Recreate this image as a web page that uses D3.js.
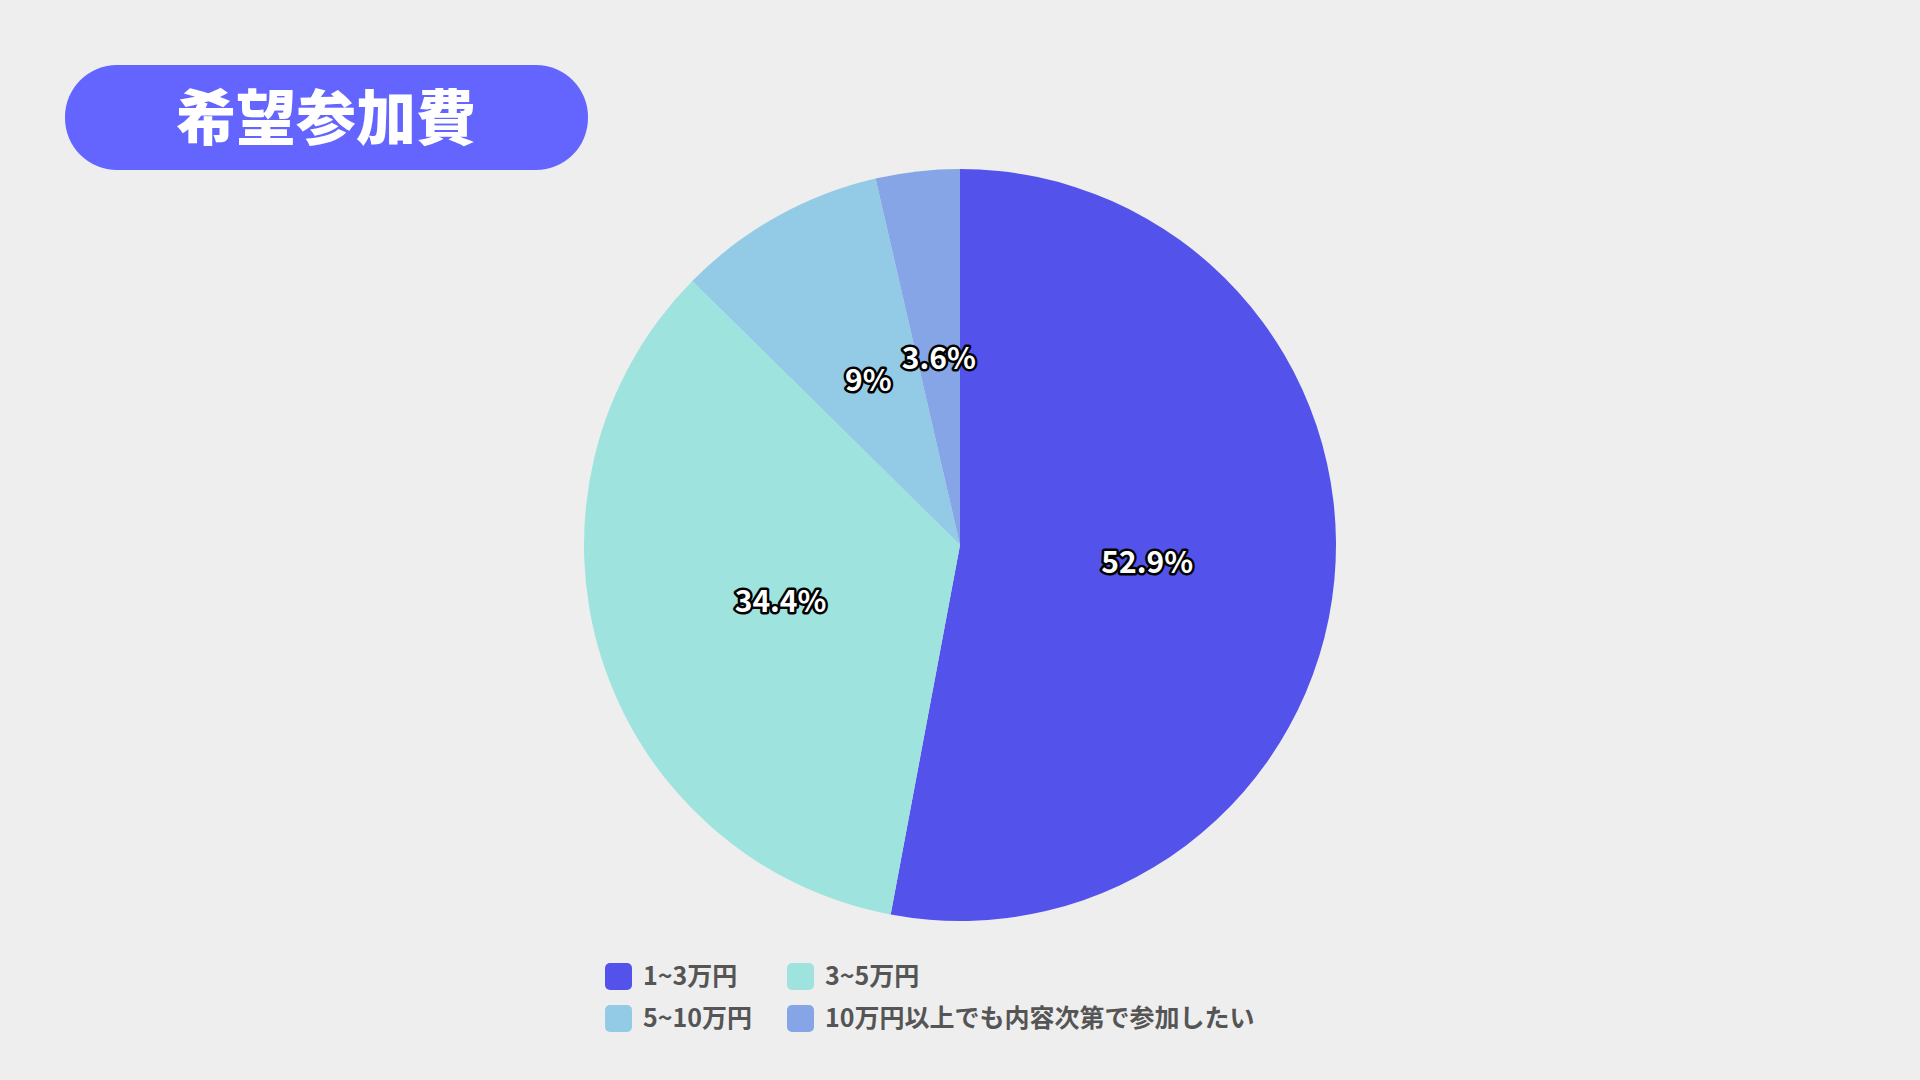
<!DOCTYPE html>
<html><head><meta charset="utf-8">
<script src="https://cdn.jsdelivr.net/npm/d3@7"></script>
<style>body{margin:0;background:#eeeeee;font-family:"Noto Sans CJK JP","Noto Sans",sans-serif;}</style>
</head><body><div id="chart"></div>
<script>
const categories = ["1~3万円", "3~5万円", "5~10万円", "10万円以上でも内容次第で参加したい"];
const values = [52.9, 34.4, 9, 3.6];
const labels = ["52.9%", "34.4%", "9%", "3.6%"];
const colors = ["#5353ec", "#9ee3de", "#93cbe6", "#85a5e6"];

const width = 1920, height = 1080;
const svg = d3.select("#chart").append("svg").attr("width", width).attr("height", height);
svg.append("rect").attr("width", width).attr("height", height).attr("fill", "#eeeeee");

// title pill
svg.append("rect").attr("x", 65).attr("y", 65).attr("width", 523).attr("height", 105)
    .attr("rx", 52).attr("fill", "#6464ff");
svg.append("text").attr("x", 326).attr("y", 118).attr("dy", "0.36em")
    .attr("text-anchor", "middle").attr("fill", "#fff").attr("font-size", 60).attr("font-weight", 900)
    .text("希望参加費");

const radius = 376;
const g = svg.append("g").attr("transform", "translate(960,545)");
const pie = d3.pie().sort(null).value(d => d);
const arc = d3.arc().innerRadius(0).outerRadius(radius);
const labelArc = d3.arc().innerRadius(radius * 0.5).outerRadius(radius * 0.5);
const arcs = pie(values);

g.selectAll("path").data(arcs).join("path")
    .attr("d", arc).attr("fill", (d, i) => colors[i]);

g.selectAll("text").data(arcs).join("text")
    .attr("transform", d => `translate(${labelArc.centroid(d)})`)
    .attr("text-anchor", "middle").attr("dy", "0.35em")
    .attr("font-size", 30).attr("font-weight", 700)
    .attr("fill", "#fff").attr("stroke", "#000").attr("stroke-width", 5)
    .attr("paint-order", "stroke").attr("stroke-linejoin", "round")
    .text((d, i) => labels[i]);

// legend
const legendPos = [[605, 976], [787, 976], [605, 1018], [787, 1018]];
const leg = svg.selectAll(".leg").data(categories).join("g")
    .attr("transform", (d, i) => `translate(${legendPos[i]})`);
leg.append("rect").attr("x", 0).attr("y", -13).attr("width", 27).attr("height", 27).attr("rx", 5)
    .attr("fill", (d, i) => colors[i]);
leg.append("text").attr("x", 38).attr("dy", "0.35em").attr("font-size", 25).attr("font-weight", 700)
    .attr("fill", "#555").text(d => d);
</script></body></html>
